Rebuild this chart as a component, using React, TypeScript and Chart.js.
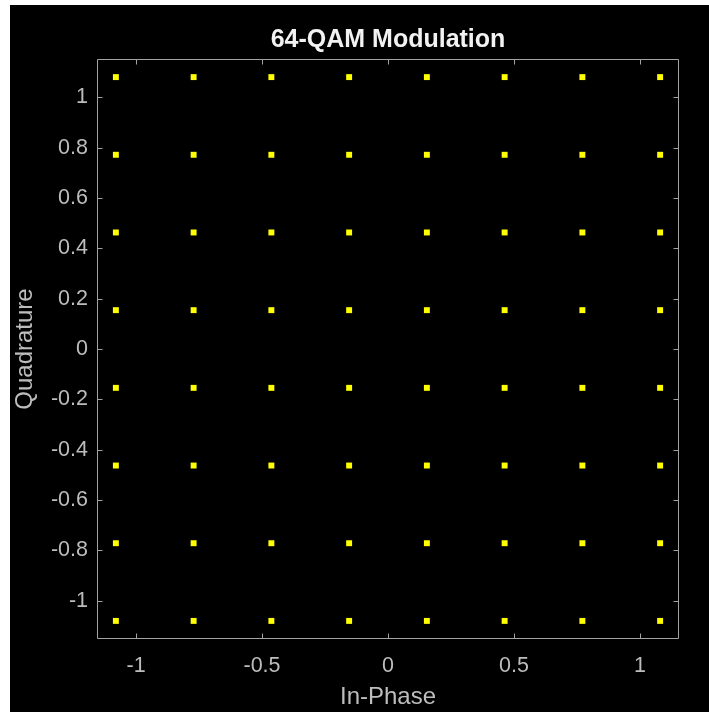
import React, { useEffect, useRef } from "react";
import { Chart, registerables } from "chart.js";

Chart.register(...registerables);

const chartTitle = "64-QAM Modulation";
const xAxisTitle = "In-Phase";
const yAxisTitle = "Quadrature";

// 64-QAM constellation points (unit average power), column by column
const inPhase = [
  -1.0801, -1.0801, -1.0801, -1.0801, -1.0801, -1.0801, -1.0801, -1.0801,
  -0.7715, -0.7715, -0.7715, -0.7715, -0.7715, -0.7715, -0.7715, -0.7715,
  -0.4629, -0.4629, -0.4629, -0.4629, -0.4629, -0.4629, -0.4629, -0.4629,
  -0.1543, -0.1543, -0.1543, -0.1543, -0.1543, -0.1543, -0.1543, -0.1543,
  0.1543, 0.1543, 0.1543, 0.1543, 0.1543, 0.1543, 0.1543, 0.1543,
  0.4629, 0.4629, 0.4629, 0.4629, 0.4629, 0.4629, 0.4629, 0.4629,
  0.7715, 0.7715, 0.7715, 0.7715, 0.7715, 0.7715, 0.7715, 0.7715,
  1.0801, 1.0801, 1.0801, 1.0801, 1.0801, 1.0801, 1.0801, 1.0801,
];
const quadrature = [
  -1.0801, -0.7715, -0.4629, -0.1543, 0.1543, 0.4629, 0.7715, 1.0801,
  -1.0801, -0.7715, -0.4629, -0.1543, 0.1543, 0.4629, 0.7715, 1.0801,
  -1.0801, -0.7715, -0.4629, -0.1543, 0.1543, 0.4629, 0.7715, 1.0801,
  -1.0801, -0.7715, -0.4629, -0.1543, 0.1543, 0.4629, 0.7715, 1.0801,
  -1.0801, -0.7715, -0.4629, -0.1543, 0.1543, 0.4629, 0.7715, 1.0801,
  -1.0801, -0.7715, -0.4629, -0.1543, 0.1543, 0.4629, 0.7715, 1.0801,
  -1.0801, -0.7715, -0.4629, -0.1543, 0.1543, 0.4629, 0.7715, 1.0801,
  -1.0801, -0.7715, -0.4629, -0.1543, 0.1543, 0.4629, 0.7715, 1.0801,
];

const xTickValues = [-1, -0.5, 0, 0.5, 1];
const xTickLabels = ["-1", "-0.5", "0", "0.5", "1"];
const yTickValues = [-1, -0.8, -0.6, -0.4, -0.2, 0, 0.2, 0.4, 0.6, 0.8, 1];
const yTickLabels = ["-1", "-0.8", "-0.6", "-0.4", "-0.2", "0", "0.2", "0.4", "0.6", "0.8", "1"];
const xLimits = [-1.155, 1.155];
const yLimits = [-1.152, 1.152];

const FONT = "'Liberation Sans', Arial, Helvetica, sans-serif";
const BG = "#000000";
const LINE_COLOR = "#a3a3a3";
const TEXT_COLOR = "#bdbdbd";
const TITLE_COLOR = "#f2f2f2";
const POINT_COLOR = "#ffff00";

const boxPlugin = {
  id: "boxTicks",
  afterDraw(chart: any) {
    const { ctx, chartArea } = chart;
    const xs = chart.scales.x;
    const ys = chart.scales.y;
    const l = Math.round(chartArea.left) + 0.5;
    const r = Math.round(chartArea.right) - 0.5;
    const t = Math.round(chartArea.top) + 0.5;
    const b = Math.round(chartArea.bottom) - 0.5;
    const len = 5;
    ctx.save();
    ctx.strokeStyle = LINE_COLOR;
    ctx.lineWidth = 1;
    ctx.beginPath();
    ctx.rect(l, t, r - l, b - t);
    xs.ticks.forEach((tk: any) => {
      const px = Math.round(xs.getPixelForValue(tk.value)) + 0.5;
      ctx.moveTo(px, b);
      ctx.lineTo(px, b - len);
      ctx.moveTo(px, t);
      ctx.lineTo(px, t + len);
    });
    ys.ticks.forEach((tk: any) => {
      const py = Math.round(ys.getPixelForValue(tk.value)) + 0.5;
      ctx.moveTo(l, py);
      ctx.lineTo(l + len, py);
      ctx.moveTo(r, py);
      ctx.lineTo(r - len, py);
    });
    ctx.stroke();
    ctx.restore();
  },
};

export default function App() {
  const canvasRef = useRef<HTMLCanvasElement | null>(null);

  useEffect(() => {
    const canvas = canvasRef.current;
    if (!canvas) return;
    const points = inPhase.map((v, i) => ({ x: v, y: quadrature[i] }));
    const chart = new Chart(canvas, {
      type: "scatter",
      data: {
        datasets: [
          {
            data: points,
            backgroundColor: POINT_COLOR,
            borderColor: POINT_COLOR,
            borderWidth: 0,
            pointStyle: "rect",
            pointRadius: 4.2,
          },
        ],
      },
      options: {
        responsive: false,
        animation: false,
        devicePixelRatio: 1,
        layout: { padding: { left: 0, right: 30, top: 0, bottom: 0 } },
        plugins: {
          legend: { display: false },
          tooltip: { enabled: false },
          title: {
            display: true,
            fullSize: false,
            text: chartTitle,
            color: TITLE_COLOR,
            font: { family: FONT, size: 25, weight: "bold", lineHeight: 1.2 },
            padding: { top: 20, bottom: 4 },
          },
        },
        scales: {
          x: {
            type: "linear",
            min: xLimits[0],
            max: xLimits[1],
            afterBuildTicks: (scale: any) => {
              scale.ticks = xTickValues.map((v) => ({ value: v }));
            },
            afterFit: (scale: any) => {
              scale.height = 73;
            },
            grid: { display: false, drawTicks: false },
            border: { display: false },
            ticks: {
              color: TEXT_COLOR,
              padding: 14,
              maxRotation: 0,
              font: { family: FONT, size: 21.5 },
              callback: (value: any) => {
                const i = xTickValues.findIndex((v) => Math.abs(v - Number(value)) < 1e-9);
                return i >= 0 ? xTickLabels[i] : "";
              },
            },
            title: {
              display: true,
              text: xAxisTitle,
              color: TEXT_COLOR,
              font: { family: FONT, size: 24, lineHeight: 1.2 },
              padding: { top: 0, bottom: 0 },
            },
          },
          y: {
            type: "linear",
            min: yLimits[0],
            max: yLimits[1],
            afterBuildTicks: (scale: any) => {
              scale.ticks = yTickValues.map((v) => ({ value: v }));
            },
            afterFit: (scale: any) => {
              scale.width = 87;
            },
            grid: { display: false, drawTicks: false },
            border: { display: false },
            ticks: {
              color: TEXT_COLOR,
              padding: 9,
              font: { family: FONT, size: 21.5 },
              callback: (value: any) => {
                const i = yTickValues.findIndex((v) => Math.abs(v - Number(value)) < 1e-9);
                return i >= 0 ? yTickLabels[i] : "";
              },
            },
            title: {
              display: true,
              text: yAxisTitle,
              color: TEXT_COLOR,
              font: { family: FONT, size: 24, lineHeight: 1.2 },
              padding: { top: 1, bottom: 0 },
            },
          },
        },
      },
      plugins: [boxPlugin],
    } as any);
    return () => chart.destroy();
  }, []);

  return (
    <div
      style={{
        position: "fixed",
        left: 10,
        top: 5,
        width: 699,
        height: 707,
        background: BG,
      }}
    >
      <canvas ref={canvasRef} width={699} height={707} style={{ display: "block" }} />
    </div>
  );
}
